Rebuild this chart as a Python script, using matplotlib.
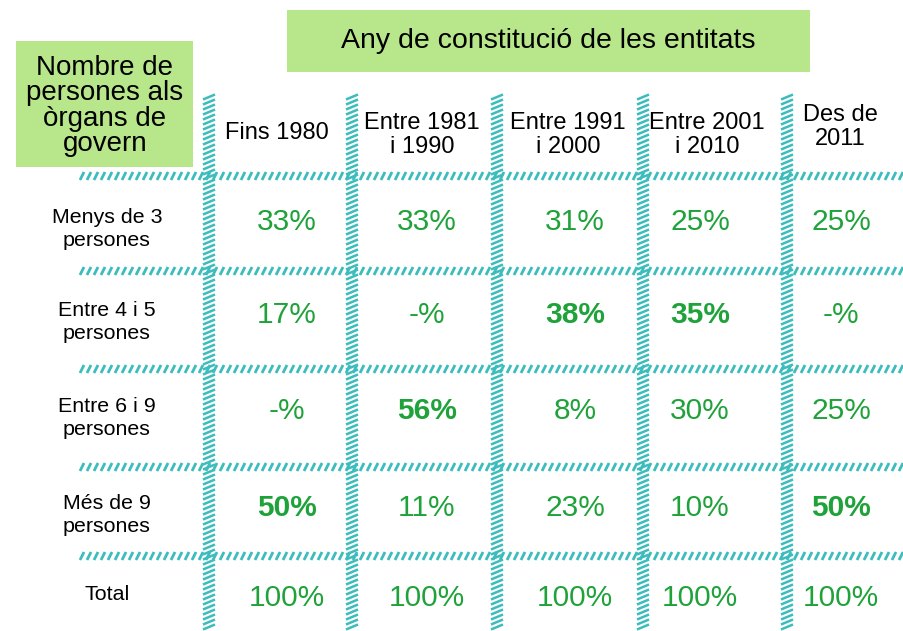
import matplotlib.pyplot as plt
from matplotlib.patches import Rectangle

plt.rcParams['font.family'] = ['Liberation Sans', 'DejaVu Sans']

# dades de la taula
col_labels = ["Fins 1980", "Entre 1981\ni 1990", "Entre 1991\ni 2000", "Entre 2001\ni 2010", "Des de\n2011"]
row_labels = ["Menys de 3\npersones", "Entre 4 i 5\npersones", "Entre 6 i 9\npersones",
              "Més de 9\npersones", "Total"]
values = [
    ["33%", "33%", "31%", "25%", "25%"],
    ["17%", "-%", "38%", "35%", "-%"],
    ["-%", "56%", "8%", "30%", "25%"],
    ["50%", "11%", "23%", "10%", "50%"],
    ["100%", "100%", "100%", "100%", "100%"],
]
bold = [
    [0, 0, 0, 0, 0],
    [0, 0, 1, 1, 0],
    [0, 1, 0, 0, 0],
    [1, 0, 0, 0, 1],
    [0, 0, 0, 0, 0],
]

W, H = 904, 631
fig = plt.figure(figsize=(W / 100, H / 100), dpi=100)
ax = fig.add_axes([0, 0, 1, 1])
ax.set_xlim(0, W)
ax.set_ylim(H, 0)
ax.axis('off')

teal = '#3cbcbc'
green = '#1fa23a'
box = '#b8e68a'

# posicions
col_x = [287, 427, 575, 700, 841]
head_x = [277, 422, 568, 707, 840]
head_y = [133, 135, 135, 135, 127]
row_y = [222, 315, 411, 508, 598]
vlines = [209, 352, 497, 643, 787]
hlines = [176, 271, 369, 467, 556]

# bandes ratllades horitzontals
for hy in hlines:
    x = 80
    while x < W:
        ax.plot([x, x + 4], [hy + 4, hy - 4], color=teal, lw=2.0, solid_capstyle='butt')
        x += 7
# bandes ratllades verticals
for vx in vlines:
    y = 97
    while y < H:
        ax.plot([vx - 6, vx + 6], [y + 2.5, y - 2.5], color=teal, lw=1.8, solid_capstyle='butt')
        y += 5

# capçaleres
ax.add_patch(Rectangle((16, 41), 177, 126, color=box, lw=0))
ax.text(105, 106, "Nombre de\npersones als\nòrgans de\ngovern", ha='center', va='center',
        fontsize=20, linespacing=0.98)
ax.add_patch(Rectangle((287, 10), 523, 62, color=box, lw=0))
ax.text(548, 41, "Any de constitució de les entitats", ha='center', va='center', fontsize=20.5)

for x, y, lab in zip(head_x, head_y, col_labels):
    ax.text(x, y, lab, ha='center', va='center', fontsize=17, linespacing=1.08)

for y, lab in zip(row_y, row_labels):
    ax.text(107, y + 7 if '\n' in lab else y - 4, lab, ha='center', va='center',
            fontsize=15.4, linespacing=1.3)

for i, y in enumerate(row_y):
    for j, x in enumerate(col_x):
        ax.text(x, y, values[i][j], ha='center', va='center', fontsize=21.5, color=green,
                fontweight='bold' if bold[i][j] else 'normal')

fig.savefig('out.png', dpi=100)
